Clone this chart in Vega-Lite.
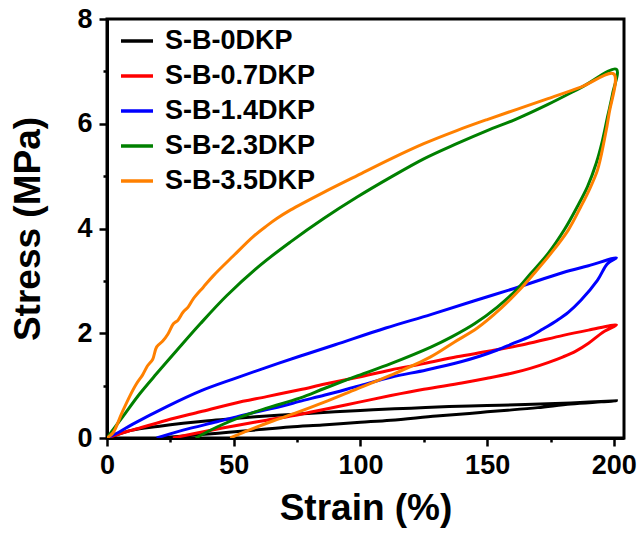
{
  "$schema": "https://vega.github.io/schema/vega-lite/v6.json",
  "width": 517,
  "height": 419,
  "autosize": {"type": "none"},
  "padding": {"left": 107, "top": 19, "right": 16, "bottom": 97},
  "background": "white",
  "config": {
    "font": "Liberation Sans",
    "view": {"stroke": "black", "strokeWidth": 3}
  },
  "datasets": {
    "loops": [
      {"s": "S-B-0DKP", "i": 1, "x": 0, "y": 0},
      {"s": "S-B-0DKP", "i": 2, "x": 5, "y": 0.08},
      {"s": "S-B-0DKP", "i": 3, "x": 10, "y": 0.15},
      {"s": "S-B-0DKP", "i": 4, "x": 20, "y": 0.22},
      {"s": "S-B-0DKP", "i": 5, "x": 30, "y": 0.28},
      {"s": "S-B-0DKP", "i": 6, "x": 40, "y": 0.33},
      {"s": "S-B-0DKP", "i": 7, "x": 50, "y": 0.37},
      {"s": "S-B-0DKP", "i": 8, "x": 63, "y": 0.42},
      {"s": "S-B-0DKP", "i": 9, "x": 76, "y": 0.46},
      {"s": "S-B-0DKP", "i": 10, "x": 90, "y": 0.5},
      {"s": "S-B-0DKP", "i": 11, "x": 105, "y": 0.54},
      {"s": "S-B-0DKP", "i": 12, "x": 120, "y": 0.57},
      {"s": "S-B-0DKP", "i": 13, "x": 135, "y": 0.6},
      {"s": "S-B-0DKP", "i": 14, "x": 150, "y": 0.62},
      {"s": "S-B-0DKP", "i": 15, "x": 165, "y": 0.64},
      {"s": "S-B-0DKP", "i": 16, "x": 183, "y": 0.67},
      {"s": "S-B-0DKP", "i": 17, "x": 201, "y": 0.71},
      {"s": "S-B-0DKP", "i": 18, "x": 195, "y": 0.69},
      {"s": "S-B-0DKP", "i": 19, "x": 183, "y": 0.65},
      {"s": "S-B-0DKP", "i": 20, "x": 170, "y": 0.58},
      {"s": "S-B-0DKP", "i": 21, "x": 158, "y": 0.53},
      {"s": "S-B-0DKP", "i": 22, "x": 150, "y": 0.5},
      {"s": "S-B-0DKP", "i": 23, "x": 143, "y": 0.47},
      {"s": "S-B-0DKP", "i": 24, "x": 130, "y": 0.42},
      {"s": "S-B-0DKP", "i": 25, "x": 112, "y": 0.34},
      {"s": "S-B-0DKP", "i": 26, "x": 100, "y": 0.3},
      {"s": "S-B-0DKP", "i": 27, "x": 85, "y": 0.25},
      {"s": "S-B-0DKP", "i": 28, "x": 72, "y": 0.21},
      {"s": "S-B-0DKP", "i": 29, "x": 60, "y": 0.16},
      {"s": "S-B-0DKP", "i": 30, "x": 48, "y": 0.11},
      {"s": "S-B-0DKP", "i": 31, "x": 36, "y": 0.06},
      {"s": "S-B-0DKP", "i": 32, "x": 28, "y": 0.03},
      {"s": "S-B-0DKP", "i": 33, "x": 21, "y": 0},

      {"s": "S-B-0.7DKP", "i": 1, "x": 0, "y": 0},
      {"s": "S-B-0.7DKP", "i": 2, "x": 5, "y": 0.08},
      {"s": "S-B-0.7DKP", "i": 3, "x": 10, "y": 0.15},
      {"s": "S-B-0.7DKP", "i": 4, "x": 23.6, "y": 0.34},
      {"s": "S-B-0.7DKP", "i": 5, "x": 36.8, "y": 0.5},
      {"s": "S-B-0.7DKP", "i": 6, "x": 50, "y": 0.66},
      {"s": "S-B-0.7DKP", "i": 7, "x": 63, "y": 0.79},
      {"s": "S-B-0.7DKP", "i": 8, "x": 76, "y": 0.92},
      {"s": "S-B-0.7DKP", "i": 9, "x": 86, "y": 1.03},
      {"s": "S-B-0.7DKP", "i": 10, "x": 99, "y": 1.16},
      {"s": "S-B-0.7DKP", "i": 11, "x": 112, "y": 1.3},
      {"s": "S-B-0.7DKP", "i": 12, "x": 125, "y": 1.42},
      {"s": "S-B-0.7DKP", "i": 13, "x": 138, "y": 1.55},
      {"s": "S-B-0.7DKP", "i": 14, "x": 151, "y": 1.66},
      {"s": "S-B-0.7DKP", "i": 15, "x": 165, "y": 1.79},
      {"s": "S-B-0.7DKP", "i": 16, "x": 180, "y": 1.96},
      {"s": "S-B-0.7DKP", "i": 17, "x": 190, "y": 2.06},
      {"s": "S-B-0.7DKP", "i": 18, "x": 201, "y": 2.16},
      {"s": "S-B-0.7DKP", "i": 19, "x": 196, "y": 2.03},
      {"s": "S-B-0.7DKP", "i": 20, "x": 190, "y": 1.81},
      {"s": "S-B-0.7DKP", "i": 21, "x": 185, "y": 1.66},
      {"s": "S-B-0.7DKP", "i": 22, "x": 180, "y": 1.55},
      {"s": "S-B-0.7DKP", "i": 23, "x": 174, "y": 1.44},
      {"s": "S-B-0.7DKP", "i": 24, "x": 167, "y": 1.33},
      {"s": "S-B-0.7DKP", "i": 25, "x": 160, "y": 1.24},
      {"s": "S-B-0.7DKP", "i": 26, "x": 150, "y": 1.14},
      {"s": "S-B-0.7DKP", "i": 27, "x": 140, "y": 1.05},
      {"s": "S-B-0.7DKP", "i": 28, "x": 125, "y": 0.93},
      {"s": "S-B-0.7DKP", "i": 29, "x": 112, "y": 0.81},
      {"s": "S-B-0.7DKP", "i": 30, "x": 99, "y": 0.68},
      {"s": "S-B-0.7DKP", "i": 31, "x": 86, "y": 0.55},
      {"s": "S-B-0.7DKP", "i": 32, "x": 76, "y": 0.45},
      {"s": "S-B-0.7DKP", "i": 33, "x": 63, "y": 0.34},
      {"s": "S-B-0.7DKP", "i": 34, "x": 50, "y": 0.23},
      {"s": "S-B-0.7DKP", "i": 35, "x": 37, "y": 0.11},
      {"s": "S-B-0.7DKP", "i": 36, "x": 26, "y": 0},

      {"s": "S-B-1.4DKP", "i": 1, "x": 0, "y": 0},
      {"s": "S-B-1.4DKP", "i": 2, "x": 5, "y": 0.12},
      {"s": "S-B-1.4DKP", "i": 3, "x": 10, "y": 0.26},
      {"s": "S-B-1.4DKP", "i": 4, "x": 23.6, "y": 0.6},
      {"s": "S-B-1.4DKP", "i": 5, "x": 37, "y": 0.9},
      {"s": "S-B-1.4DKP", "i": 6, "x": 50, "y": 1.13},
      {"s": "S-B-1.4DKP", "i": 7, "x": 63, "y": 1.35},
      {"s": "S-B-1.4DKP", "i": 8, "x": 76, "y": 1.56},
      {"s": "S-B-1.4DKP", "i": 9, "x": 90, "y": 1.78},
      {"s": "S-B-1.4DKP", "i": 10, "x": 110, "y": 2.1},
      {"s": "S-B-1.4DKP", "i": 11, "x": 128, "y": 2.36},
      {"s": "S-B-1.4DKP", "i": 12, "x": 145, "y": 2.62},
      {"s": "S-B-1.4DKP", "i": 13, "x": 161, "y": 2.86},
      {"s": "S-B-1.4DKP", "i": 14, "x": 180, "y": 3.16},
      {"s": "S-B-1.4DKP", "i": 15, "x": 190, "y": 3.29},
      {"s": "S-B-1.4DKP", "i": 16, "x": 201, "y": 3.44},
      {"s": "S-B-1.4DKP", "i": 17, "x": 197.5, "y": 3.33},
      {"s": "S-B-1.4DKP", "i": 18, "x": 193.5, "y": 3.01},
      {"s": "S-B-1.4DKP", "i": 19, "x": 187, "y": 2.63},
      {"s": "S-B-1.4DKP", "i": 20, "x": 182, "y": 2.4},
      {"s": "S-B-1.4DKP", "i": 21, "x": 177.7, "y": 2.25},
      {"s": "S-B-1.4DKP", "i": 22, "x": 172, "y": 2.08},
      {"s": "S-B-1.4DKP", "i": 23, "x": 167, "y": 1.94},
      {"s": "S-B-1.4DKP", "i": 24, "x": 160, "y": 1.8},
      {"s": "S-B-1.4DKP", "i": 25, "x": 154, "y": 1.68},
      {"s": "S-B-1.4DKP", "i": 26, "x": 147, "y": 1.56},
      {"s": "S-B-1.4DKP", "i": 27, "x": 140, "y": 1.46},
      {"s": "S-B-1.4DKP", "i": 28, "x": 126, "y": 1.3},
      {"s": "S-B-1.4DKP", "i": 29, "x": 112, "y": 1.16},
      {"s": "S-B-1.4DKP", "i": 30, "x": 99, "y": 0.99},
      {"s": "S-B-1.4DKP", "i": 31, "x": 86, "y": 0.82},
      {"s": "S-B-1.4DKP", "i": 32, "x": 76, "y": 0.7},
      {"s": "S-B-1.4DKP", "i": 33, "x": 70, "y": 0.62},
      {"s": "S-B-1.4DKP", "i": 34, "x": 56.5, "y": 0.47},
      {"s": "S-B-1.4DKP", "i": 35, "x": 43.4, "y": 0.31},
      {"s": "S-B-1.4DKP", "i": 36, "x": 30, "y": 0.15},
      {"s": "S-B-1.4DKP", "i": 37, "x": 19.6, "y": 0},

      {"s": "S-B-2.3DKP", "i": 1, "x": 0, "y": 0},
      {"s": "S-B-2.3DKP", "i": 2, "x": 3, "y": 0.2},
      {"s": "S-B-2.3DKP", "i": 3, "x": 6.4, "y": 0.42},
      {"s": "S-B-2.3DKP", "i": 4, "x": 13, "y": 0.85},
      {"s": "S-B-2.3DKP", "i": 5, "x": 19.6, "y": 1.23},
      {"s": "S-B-2.3DKP", "i": 6, "x": 27.5, "y": 1.67},
      {"s": "S-B-2.3DKP", "i": 7, "x": 36.8, "y": 2.18},
      {"s": "S-B-2.3DKP", "i": 8, "x": 47.3, "y": 2.72},
      {"s": "S-B-2.3DKP", "i": 9, "x": 60.5, "y": 3.3},
      {"s": "S-B-2.3DKP", "i": 10, "x": 72.3, "y": 3.74},
      {"s": "S-B-2.3DKP", "i": 11, "x": 85.5, "y": 4.19},
      {"s": "S-B-2.3DKP", "i": 12, "x": 98.7, "y": 4.6},
      {"s": "S-B-2.3DKP", "i": 13, "x": 112, "y": 4.98},
      {"s": "S-B-2.3DKP", "i": 14, "x": 125, "y": 5.33},
      {"s": "S-B-2.3DKP", "i": 15, "x": 138, "y": 5.62},
      {"s": "S-B-2.3DKP", "i": 16, "x": 150, "y": 5.87},
      {"s": "S-B-2.3DKP", "i": 17, "x": 161, "y": 6.08},
      {"s": "S-B-2.3DKP", "i": 18, "x": 174, "y": 6.37},
      {"s": "S-B-2.3DKP", "i": 19, "x": 187, "y": 6.69},
      {"s": "S-B-2.3DKP", "i": 20, "x": 201, "y": 7.04},
      {"s": "S-B-2.3DKP", "i": 21, "x": 199.5, "y": 6.57},
      {"s": "S-B-2.3DKP", "i": 22, "x": 197.5, "y": 6.13},
      {"s": "S-B-2.3DKP", "i": 23, "x": 195.5, "y": 5.68},
      {"s": "S-B-2.3DKP", "i": 24, "x": 193, "y": 5.24},
      {"s": "S-B-2.3DKP", "i": 25, "x": 189.6, "y": 4.8},
      {"s": "S-B-2.3DKP", "i": 26, "x": 185.6, "y": 4.42},
      {"s": "S-B-2.3DKP", "i": 27, "x": 180.5, "y": 3.98},
      {"s": "S-B-2.3DKP", "i": 28, "x": 174, "y": 3.52},
      {"s": "S-B-2.3DKP", "i": 29, "x": 167.2, "y": 3.14},
      {"s": "S-B-2.3DKP", "i": 30, "x": 162, "y": 2.85},
      {"s": "S-B-2.3DKP", "i": 31, "x": 154, "y": 2.5},
      {"s": "S-B-2.3DKP", "i": 32, "x": 145, "y": 2.18},
      {"s": "S-B-2.3DKP", "i": 33, "x": 136, "y": 1.93},
      {"s": "S-B-2.3DKP", "i": 34, "x": 128, "y": 1.74},
      {"s": "S-B-2.3DKP", "i": 35, "x": 112, "y": 1.42},
      {"s": "S-B-2.3DKP", "i": 36, "x": 99, "y": 1.19},
      {"s": "S-B-2.3DKP", "i": 37, "x": 86, "y": 0.95},
      {"s": "S-B-2.3DKP", "i": 38, "x": 76, "y": 0.76},
      {"s": "S-B-2.3DKP", "i": 39, "x": 63, "y": 0.57},
      {"s": "S-B-2.3DKP", "i": 40, "x": 52.6, "y": 0.4},
      {"s": "S-B-2.3DKP", "i": 41, "x": 43.4, "y": 0.21},
      {"s": "S-B-2.3DKP", "i": 42, "x": 35, "y": 0},

      {"s": "S-B-3.5DKP", "i": 1, "x": 0, "y": 0},
      {"s": "S-B-3.5DKP", "i": 2, "x": 2.4, "y": 0.1},
      {"s": "S-B-3.5DKP", "i": 3, "x": 5.8, "y": 0.47},
      {"s": "S-B-3.5DKP", "i": 4, "x": 9, "y": 0.8},
      {"s": "S-B-3.5DKP", "i": 5, "x": 11.7, "y": 1.04},
      {"s": "S-B-3.5DKP", "i": 6, "x": 14, "y": 1.2},
      {"s": "S-B-3.5DKP", "i": 7, "x": 16, "y": 1.38},
      {"s": "S-B-3.5DKP", "i": 8, "x": 18, "y": 1.5},
      {"s": "S-B-3.5DKP", "i": 9, "x": 19.6, "y": 1.74},
      {"s": "S-B-3.5DKP", "i": 10, "x": 22, "y": 1.85},
      {"s": "S-B-3.5DKP", "i": 11, "x": 24, "y": 1.98},
      {"s": "S-B-3.5DKP", "i": 12, "x": 26.2, "y": 2.18},
      {"s": "S-B-3.5DKP", "i": 13, "x": 28, "y": 2.25},
      {"s": "S-B-3.5DKP", "i": 14, "x": 30, "y": 2.4},
      {"s": "S-B-3.5DKP", "i": 15, "x": 32, "y": 2.5},
      {"s": "S-B-3.5DKP", "i": 16, "x": 34.1, "y": 2.66},
      {"s": "S-B-3.5DKP", "i": 17, "x": 38, "y": 2.88},
      {"s": "S-B-3.5DKP", "i": 18, "x": 42, "y": 3.1},
      {"s": "S-B-3.5DKP", "i": 19, "x": 49.9, "y": 3.48},
      {"s": "S-B-3.5DKP", "i": 20, "x": 57.8, "y": 3.85},
      {"s": "S-B-3.5DKP", "i": 21, "x": 63, "y": 4.05},
      {"s": "S-B-3.5DKP", "i": 22, "x": 67, "y": 4.19},
      {"s": "S-B-3.5DKP", "i": 23, "x": 72.3, "y": 4.35},
      {"s": "S-B-3.5DKP", "i": 24, "x": 85.5, "y": 4.69},
      {"s": "S-B-3.5DKP", "i": 25, "x": 98.7, "y": 5.01},
      {"s": "S-B-3.5DKP", "i": 26, "x": 112, "y": 5.33},
      {"s": "S-B-3.5DKP", "i": 27, "x": 125, "y": 5.62},
      {"s": "S-B-3.5DKP", "i": 28, "x": 138, "y": 5.87},
      {"s": "S-B-3.5DKP", "i": 29, "x": 150, "y": 6.08},
      {"s": "S-B-3.5DKP", "i": 30, "x": 162, "y": 6.28},
      {"s": "S-B-3.5DKP", "i": 31, "x": 174, "y": 6.48},
      {"s": "S-B-3.5DKP", "i": 32, "x": 187, "y": 6.7},
      {"s": "S-B-3.5DKP", "i": 33, "x": 200, "y": 6.95},
      {"s": "S-B-3.5DKP", "i": 34, "x": 198.1, "y": 6.19},
      {"s": "S-B-3.5DKP", "i": 35, "x": 196.2, "y": 5.68},
      {"s": "S-B-3.5DKP", "i": 36, "x": 193.5, "y": 5.11},
      {"s": "S-B-3.5DKP", "i": 37, "x": 190.2, "y": 4.73},
      {"s": "S-B-3.5DKP", "i": 38, "x": 187, "y": 4.42},
      {"s": "S-B-3.5DKP", "i": 39, "x": 182, "y": 3.97},
      {"s": "S-B-3.5DKP", "i": 40, "x": 175.1, "y": 3.52},
      {"s": "S-B-3.5DKP", "i": 41, "x": 168.5, "y": 3.14},
      {"s": "S-B-3.5DKP", "i": 42, "x": 163.2, "y": 2.85},
      {"s": "S-B-3.5DKP", "i": 43, "x": 155.3, "y": 2.47},
      {"s": "S-B-3.5DKP", "i": 44, "x": 146.1, "y": 2.1},
      {"s": "S-B-3.5DKP", "i": 45, "x": 137, "y": 1.83},
      {"s": "S-B-3.5DKP", "i": 46, "x": 127.7, "y": 1.55},
      {"s": "S-B-3.5DKP", "i": 47, "x": 112, "y": 1.2},
      {"s": "S-B-3.5DKP", "i": 48, "x": 98.7, "y": 0.94},
      {"s": "S-B-3.5DKP", "i": 49, "x": 85.5, "y": 0.68},
      {"s": "S-B-3.5DKP", "i": 50, "x": 74, "y": 0.47},
      {"s": "S-B-3.5DKP", "i": 51, "x": 65.7, "y": 0.33},
      {"s": "S-B-3.5DKP", "i": 52, "x": 56.5, "y": 0.16},
      {"s": "S-B-3.5DKP", "i": 53, "x": 48.6, "y": 0}
    ]
  },
  "data": {"name": "loops"},
  "mark": {"type": "line", "strokeWidth": 3, "clip": true, "interpolate": "catmull-rom"},
  "encoding": {
    "x": {
      "field": "x",
      "type": "quantitative",
      "scale": {"domain": [0, 204], "nice": false},
      "axis": {
        "title": "Strain (%)",
        "values": [0, 25, 50, 75, 100, 125, 150, 175, 200],
        "labelExpr": "datum.value % 50 === 0 ? datum.label : ''",
        "tickSize": {"condition": {"test": "datum.value % 50 === 0", "value": 8}, "value": 4},
        "tickWidth": 2.5,
        "tickColor": "black",
        "domainColor": "black",
        "domainWidth": 3,
        "grid": false,
        "labelFont": "Liberation Sans",
        "labelFontSize": 27,
        "labelFontWeight": "bold",
        "labelColor": "black",
        "labelPadding": 6,
        "labelFlush": false,
        "titleFont": "Liberation Sans",
        "titleFontSize": 37,
        "titleFontWeight": "bold",
        "titleColor": "black",
        "titlePadding": 12
      }
    },
    "y": {
      "field": "y",
      "type": "quantitative",
      "scale": {"domain": [0, 8], "nice": false},
      "axis": {
        "title": "Stress (MPa)",
        "values": [0, 1, 2, 3, 4, 5, 6, 7, 8],
        "labelExpr": "datum.value % 2 === 0 ? datum.label : ''",
        "tickSize": {"condition": {"test": "datum.value % 2 === 0", "value": 8}, "value": 4},
        "tickWidth": 2.5,
        "tickColor": "black",
        "domainColor": "black",
        "domainWidth": 3,
        "grid": false,
        "labelFont": "Liberation Sans",
        "labelFontSize": 27,
        "labelFontWeight": "bold",
        "labelColor": "black",
        "labelPadding": 7,
        "labelFlush": false,
        "titleFont": "Liberation Sans",
        "titleFontSize": 37,
        "titleFontWeight": "bold",
        "titleColor": "black",
        "titlePadding": 29
      }
    },
    "color": {
      "field": "s",
      "type": "nominal",
      "scale": {
        "domain": ["S-B-0DKP", "S-B-0.7DKP", "S-B-1.4DKP", "S-B-2.3DKP", "S-B-3.5DKP"],
        "range": ["#000000", "#ff0000", "#0000ff", "#008000", "#ff8000"]
      },
      "legend": {
        "orient": "none",
        "legendX": 12,
        "legendY": 4,
        "title": null,
        "symbolType": "stroke",
        "symbolSize": 1024,
        "symbolStrokeWidth": 3.5,
        "labelFont": "Liberation Sans",
        "labelFontSize": 27,
        "labelFontWeight": "bold",
        "labelColor": "black",
        "labelOffset": 10,
        "labelLimit": 400,
        "rowPadding": 4
      }
    },
    "order": {"field": "i", "type": "quantitative"}
  }
}
